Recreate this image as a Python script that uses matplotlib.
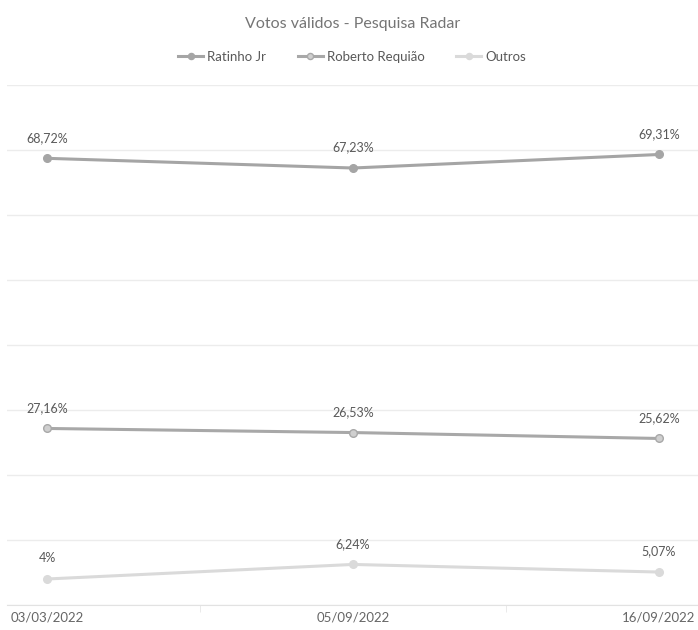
import numpy as np
import matplotlib.pyplot as plt

datas = ['03/03/2022', '05/09/2022', '16/09/2022']
ratinho = [68.72, 67.23, 69.31]
requiao = [27.16, 26.53, 25.62]
outros = [4.0, 6.24, 5.07]

plt.rcParams['font.family'] = ['Lato', 'DejaVu Sans']

fig = plt.figure(figsize=(6.98, 6.30), dpi=100)
ax = fig.add_axes([7 / 698, 25 / 630, 691 / 698, 520 / 630])

x = np.arange(len(datas))
series = [
    ('Ratinho Jr', ratinho, '#a5a5a5', '#a5a5a5'),
    ('Roberto Requião', requiao, '#a8a8a8', '#cfcfcf'),
    ('Outros', outros, '#dadada', '#dadada'),
]
for nome, vals, cor, face in series:
    ax.plot(x, vals, color=cor, lw=2.2, marker='o', ms=5.5,
            markerfacecolor=face, markeredgecolor=cor, mew=1, label=nome)
    for xi, v in zip(x, vals):
        txt = ('%.2f' % v).replace('.', ',')
        if txt.endswith(',00'):
            txt = txt[:-3]
        ax.annotate(txt + '%', (xi, v), xytext=(0, 10.5), textcoords='offset points',
                    ha='center', va='bottom', fontsize=9, color='#595959')

ax.set_xlim(-40 / 306, 651 / 306)
ax.set_ylim(0, 80)
ax.set_yticks(np.arange(0, 81, 10))
ax.yaxis.grid(True, color='#ececec', lw=1)
ax.tick_params(axis='y', left=False, labelleft=False)
ax.set_xticks([0.5, 1.5], minor=True)
ax.set_xticks(x)
ax.set_xticklabels(datas, fontsize=9.5, color='#666666')
ax.tick_params(axis='x', which='major', length=0, pad=5)
ax.tick_params(axis='x', which='minor', length=5, color='#e6e6e6', direction='out')
for s in ['left', 'right', 'top']:
    ax.spines[s].set_visible(False)
ax.spines['bottom'].set_color('#e2e2e2')
ax.set_axisbelow(True)

fig.text(353 / 698, 1 - 24 / 630, 'Votos válidos - Pesquisa Radar', ha='center', va='center',
         fontsize=11.5, color='#757575')
fig.legend(loc='center', bbox_to_anchor=(352 / 698, 1 - 57 / 630), ncol=3, frameon=False,
           fontsize=9.5, labelcolor='#595959', handlelength=1.9, handletextpad=0.3,
           columnspacing=2.4, markerscale=0.8)

fig.savefig('out.png', dpi=100)
